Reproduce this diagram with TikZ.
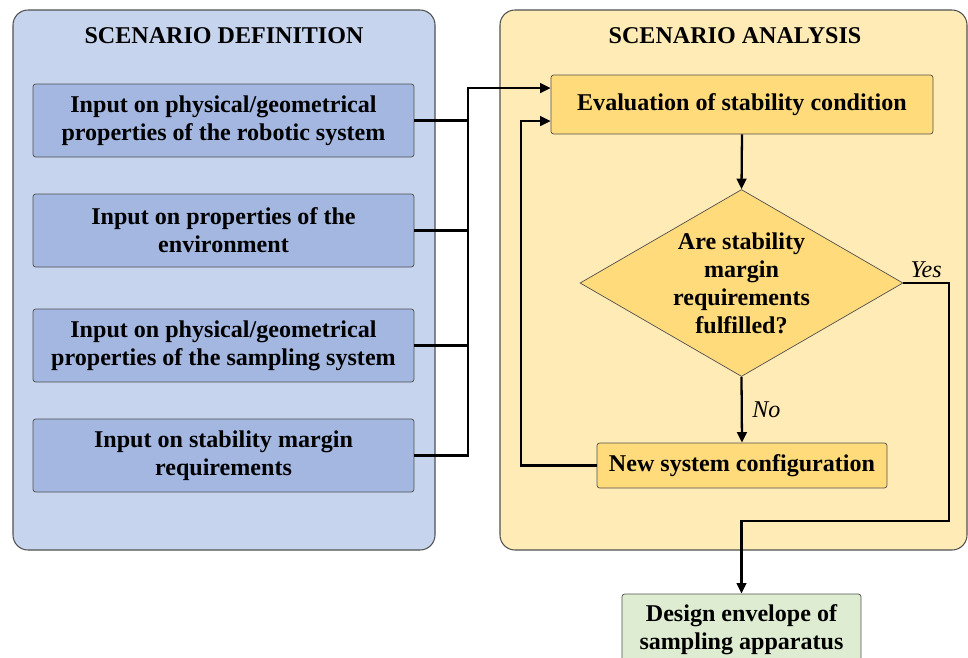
\documentclass[tikz,border=0pt]{standalone}
\usepackage{fontspec}
\setmainfont{Liberation Serif}
\usetikzlibrary{shapes.geometric,arrows.meta}

\definecolor{defpanel}{HTML}{C6D4EE}
\definecolor{defbox}{HTML}{A3B7E1}
\definecolor{anapanel}{HTML}{FFEBB5}
\definecolor{anabox}{HTML}{FFDB7C}
\definecolor{outfill}{HTML}{DEEDD1}
\definecolor{rim}{HTML}{505050}

\tikzset{
    panel/.style={draw=rim, line width=0.6pt, rounded corners=0.3cm},
    inbox/.style={draw=rim, fill=defbox, rounded corners=1.5pt, align=center,
        minimum width=7.62cm, minimum height=1.46cm, inner sep=0pt,
        font=\fontsize{13.7}{16}\selectfont\bfseries},
    anabox/.style={draw=rim, fill=anabox, rounded corners=1.5pt, align=center, inner sep=0pt,
        font=\fontsize{13.7}{16}\selectfont\bfseries},
    decision/.style={draw=rim, fill=anabox, shape=diamond, aspect=1.73, inner sep=0pt, align=center,
        minimum width=6.46cm, minimum height=3.74cm,
        font=\fontsize{13.7}{16}\selectfont\bfseries},
    outbox/.style={draw=rim, fill=outfill, rounded corners=1.5pt, align=center, inner sep=0pt,
        minimum width=4.78cm, minimum height=1.44cm,
        font=\fontsize{13.7}{16}\selectfont\bfseries},
    title/.style={font=\fontsize{13.7}{16}\selectfont\bfseries},
    flow/.style={line width=1.3pt, -{Triangle[length=6pt,width=5.5pt]}},
    link/.style={line width=1.3pt},
    tag/.style={font=\fontsize{13.7}{16}\selectfont\itshape}
}

\begin{document}
\begin{tikzpicture}[x=0.02cm, y=-0.02cm]
        \useasboundingbox (0,0) rectangle (968,657);
        \clip (0,0) rectangle (968,657);

        % the two panels
        \draw[panel, fill=defpanel] (13,10) rectangle (435,550);
        \draw[panel, fill=anapanel] (500,10) rectangle (967,550);
        \node[title] (deftitle) at (224,36) {SCENARIO DEFINITION};
        \node[title] (anatitle) at (735,36) {SCENARIO ANALYSIS};

        % inputs
        \node[inbox] (robot) at (223.5,120.5) {Input on physical/geometrical\\properties of the robotic system};
        \node[inbox] (env) at (223.5,230.5) {Input on properties of the\\environment};
        \node[inbox] (sampling) at (223.5,345.5) {Input on physical/geometrical\\properties of the sampling system};
        \node[inbox] (margin) at (223.5,455.5) {Input on stability margin\\requirements};

        % analysis loop
        \node[anabox, minimum width=7.64cm, minimum height=1.18cm] (eval) at (742,104.5) {Evaluation of stability condition};
        \node[decision] (check) at (741.5,283) {Are stability\\margin\\requirements\\fulfilled?};
        \node[anabox, minimum width=5.8cm, minimum height=0.9cm] (newconf) at (742,465.5) {New system configuration};
        \node[outbox] (envelope) at (741.5,630) {Design envelope of\\sampling apparatus};

        \coordinate (bus) at (468,88);
        \coordinate (back) at (521,121);
        \coordinate (yes) at (949,521);

        % connectors
        \draw[link] (robot.east) -- (robot.east -| bus);
        \draw[link] (env.east) -- (env.east -| bus);
        \draw[link] (sampling.east) -- (sampling.east -| bus);
        \draw[flow] (margin.east) -| (bus) -- (bus -| eval.west);

        \draw[flow] (eval.south) -- (check.north);
        \draw[flow] (check.south) -- node[tag, right, xshift=2pt] (no) {No} (newconf.north);
        \draw[flow] (newconf.west) -| (back) -- (back -| eval.west);
        \draw[flow] (check.east) -| node[tag, pos=0.25, above, yshift=-1pt] (yestag) {Yes} (yes) -| (envelope.north);

\end{tikzpicture}
\end{document}
